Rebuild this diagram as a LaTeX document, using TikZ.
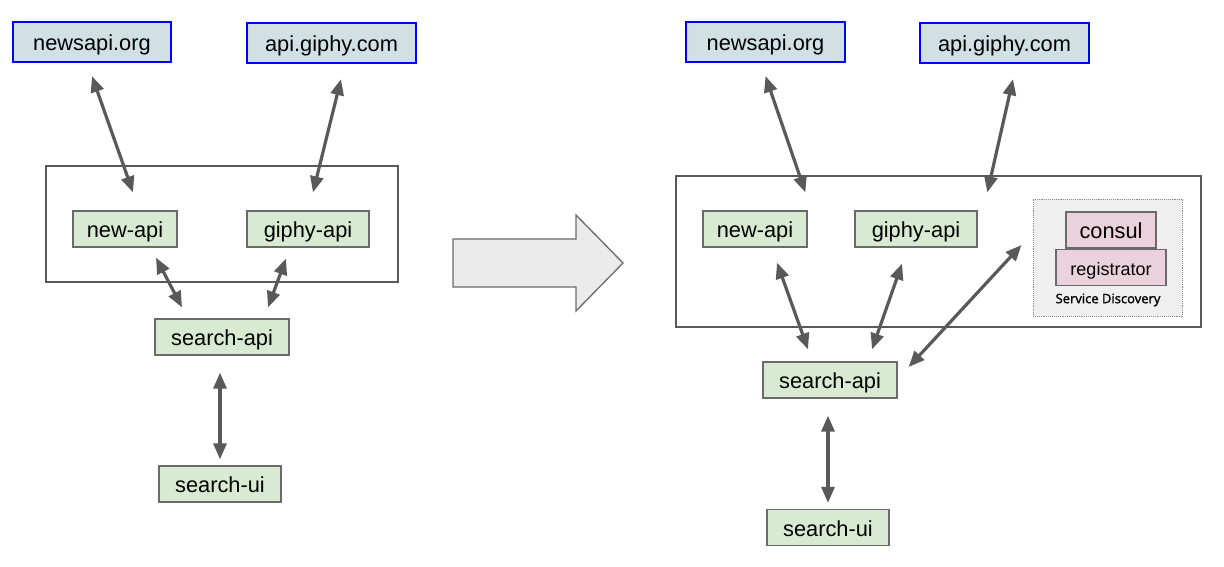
\documentclass[tikz,border=0pt]{standalone}
\usepackage{fontspec}
\setmainfont{Liberation Sans}
\newfontfamily\sdfont[FakeBold=1.5]{Open Sans}
\usetikzlibrary{calc}
\usetikzlibrary{positioning}
\usetikzlibrary{arrows.meta}
\definecolor{extfill}{HTML}{D0E0E3}
\definecolor{svcfill}{HTML}{D9EAD3}
\definecolor{regfill}{HTML}{EAD1DC}
\definecolor{sdfill}{HTML}{EFEFEF}
\definecolor{bigfill}{HTML}{EBEBEB}
\definecolor{linegray}{HTML}{595959}
\tikzset{
  extnode/.style= {
    rectangle,
    draw = blue,
    fill = extfill,
    line width = 2.3pt,
    minimum height = 40pt,
    inner sep = 0pt,
    text height = 21pt,
    text depth = 4pt,
    font = \fontsize{21.8}{25}\selectfont
  },
  svcnode/.style= {
    rectangle,
    draw = linegray!90,
    fill = #1,
    line width = 1.3pt,
    minimum height = 36pt,
    inner sep = 0pt,
    text height = 21pt,
    text depth = 4pt,
    font = \fontsize{21.8}{25}\selectfont
  },
  svcnode/.default = svcfill,
  groupbox/.style= {
    rectangle,
    draw = linegray,
    line width = 1.3pt,
    inner sep = 0pt
  },
  discoverybox/.style= {
    rectangle,
    draw = linegray!70,
    fill = sdfill,
    densely dotted,
    line width = 0.9pt,
    inner sep = 0pt
  },
  link/.style= {
    draw = linegray,
    line width = 3.2pt,
    {Triangle[length=16pt,width=13pt]}-{Triangle[length=16pt,width=13pt]}
  }
}

\begin{document}
\begin{tikzpicture}[x=1pt,y=-1pt]
  \useasboundingbox (0,0) rectangle (1224,567);

  \node[groupbox,minimum width=352pt,minimum height=116pt] (grpL) at (222,224) {};
  \node[extnode,minimum width=158pt] (newsL) at (92,42) {newsapi.org\hspace{12pt}};
  \node[extnode,minimum width=169pt] (giphyL) at (331.5,43) {api.giphy.com};
  \node[svcnode,minimum width=104pt] (newapiL) at (125,229) {new-api};
  \node[svcnode,minimum width=122pt] (giphyapiL) at (308,229) {giphy-api};
  \node[svcnode,minimum width=134pt] (searchapiL) at (222,337) {search-api};
  \node[svcnode,minimum width=122pt] (searchuiL) at (220,484) {search-ui};

  \draw[link] ($(newsL.south)+(0,13)$) -- ($(newapiL.north)+(8,-18)$);
  \draw[link] ($(giphyL.south)+(9.5,15)$) -- ($(giphyapiL.north)+(5,-18)$);
  \draw[link] ($(newapiL.south)+(31,10)$) -- ($(searchapiL.north)+(-40,-11)$);
  \draw[link] ($(giphyapiL.south)+(-22,11)$) -- ($(searchapiL.north)+(46,-11)$);
  \draw[link] ($(searchapiL.south)+(-2,17)$) -- ($(searchuiL.north)+(0,-6)$);

  \draw[draw=linegray!90,fill=bigfill,line width=1.3pt]
    (453,239) -- (576,239) -- (576,215) -- (623,263) -- (576,311) -- (576,287) -- (453,287) -- cycle;

  \node[groupbox,minimum width=525pt,minimum height=151pt] (grpR) at (938.5,251.5) {};
  \node[extnode,minimum width=159pt] (newsR) at (765.5,42) {newsapi.org\hspace{12pt}};
  \node[extnode,minimum width=169pt] (giphyR) at (1004.5,43) {api.giphy.com};
  \node[svcnode,minimum width=104pt] (newapiR) at (755,229) {new-api};
  \node[svcnode,minimum width=122pt] (giphyapiR) at (916,229) {giphy-api};
  \node[discoverybox,minimum width=149pt,minimum height=117pt] (sd) at (1107.5,257.5) {};
  \node[svcnode=regfill,minimum width=90pt] (consul) at (1111,230) {consul};
  \node[svcnode=regfill,minimum width=110pt,below=0pt of consul,
        font=\fontsize{18}{22}\selectfont] (registrator) {registrator};
  \node[font=\sdfont\fontsize{13}{15}\selectfont] (sdlabel) at (1108,300) {Service Discovery};
  \node[svcnode,minimum width=134pt] (searchapiR) at (830,380) {search-api};
  \node[svcnode,minimum width=122pt] (searchuiR) at (828,527.5) {search-ui};

  \draw[link] ($(newsR.south)+(0,13)$) -- ($(grpR.north west)+(130,17)$);
  \draw[link] ($(giphyR.south)+(8.5,15)$) -- ($(grpR.north west)+(312,17)$);
  \draw[link] ($(newapiR.south)+(22,15)$) -- ($(searchapiR.north)+(-22,-12)$);
  \draw[link] ($(giphyapiR.south)+(-14,16)$) -- ($(searchapiR.north)+(42,-12)$);
  \draw[link] ($(searchapiR.east)+(11,-13)$) -- ($(sd.west)+(-11,-12.5)$);
  \draw[link] ($(searchapiR.south)+(-2,17)$) -- ($(searchuiR.north)+(0,-6)$);

\end{tikzpicture}
\end{document}
